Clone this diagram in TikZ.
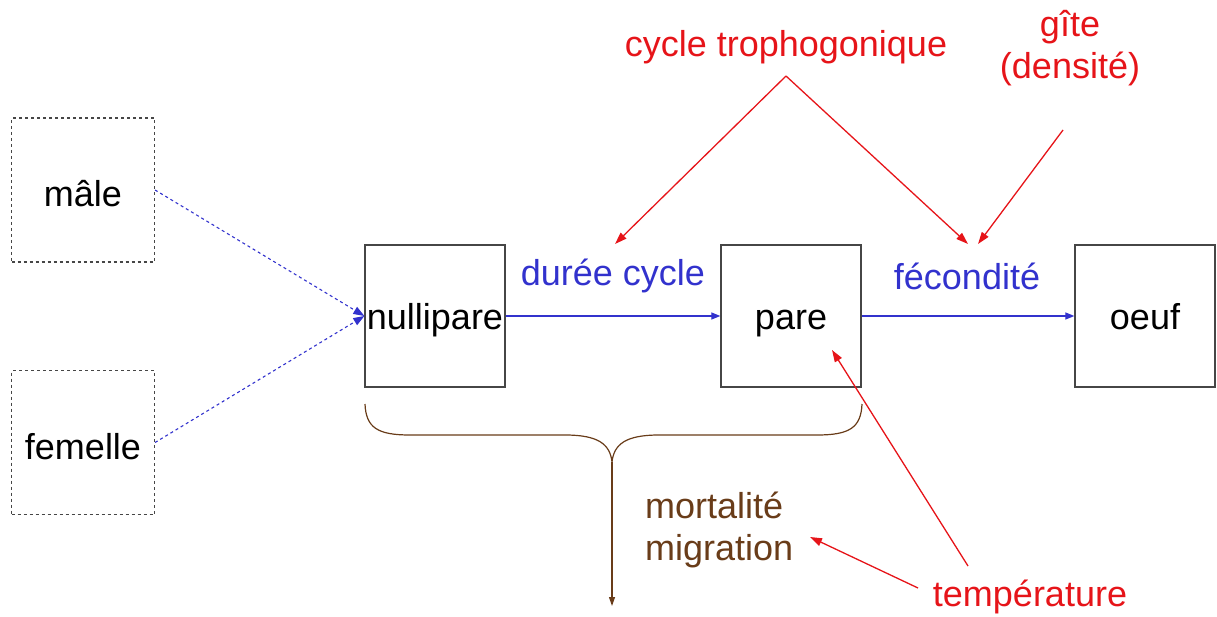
\documentclass[tikz,border=0pt]{standalone}
\usepackage{fontspec}
\setmainfont{Liberation Sans}
\usetikzlibrary{arrows.meta}
\definecolor{myblue}{RGB}{50,50,205}
\definecolor{myred}{RGB}{230,20,25}
\definecolor{mybrown}{RGB}{105,60,25}
\definecolor{boxgray}{RGB}{70,70,70}
\begin{document}
\begin{tikzpicture}[x=1pt,y=-1pt,
  font=\fontsize{36}{42}\selectfont,
  stagebox/.style={draw=boxgray,line width=1.3pt,minimum width=140pt,minimum height=142pt,inner sep=0pt,text height=32pt,text depth=4pt},
  sexbox/.style={draw=boxgray,dashed,line width=1.1pt,minimum width=143pt,minimum height=144pt,inner sep=0pt,text height=35pt,text depth=2pt},
  flow/.style={myblue,line width=1.2pt,-{Triangle[length=9pt,width=7pt]}},
  mate/.style={myblue,dashed,line width=1.1pt,-{Triangle[length=11pt,width=8pt]}},
  infl/.style={myred,line width=1.3pt,-{Triangle[length=12pt,width=8pt]}},
  lbl/.style={inner sep=0pt}]
\useasboundingbox (0,0) rectangle (1217,617);
\node[sexbox] (male) at (83,190) {mâle};
\node[sexbox] (fem) at (83,442.5) {femelle};
\node[stagebox] (nul) at (435,316) {nullipare};
\node[stagebox] (pare) at (791,316) {pare};
\node[stagebox] (oeuf) at (1145,316) {oeuf};
\draw[mate] (male.east) -- (nul.west);
\draw[mate] (fem.east) -- (nul.west);
\draw[flow] (nul.east) -- (pare.west);
\draw[flow] (pare.east) -- (oeuf.west);
\node[lbl,myblue] (duree) at (613,276) {durée cycle};
\node[lbl,myblue] (fec) at (967,276) {fécondité};
\node[lbl,myred] (troph) at (786,47) {cycle trophogonique};
\node[lbl,myred,align=center] (gite) at (1070,48) {gîte\\(densité)};
\node[lbl,myred] (temp) at (1030,597) {température};
\node[lbl,mybrown,align=left,anchor=west] (mort) at (645,530) {mortalité\\migration};
\coordinate (apex) at (786,76);
\coordinate (tA) at (615,244);
\coordinate (tB) at (968,244);
\coordinate (gS) at (1063,130);
\coordinate (tC) at (978,244);
\coordinate (pS) at (968,566);
\coordinate (tP) at (832,350);
\coordinate (mS) at (918,588);
\coordinate (tM) at (810,537);
\draw[infl] (apex) -- (tA);
\draw[infl] (apex) -- (tB);
\draw[infl] (gS) -- (tC);
\draw[infl] (pS) -- (tP);
\draw[infl] (mS) -- (tM);
\coordinate (bL) at (365,404);
\coordinate (bR) at (862,404);
\coordinate (cusp) at (612,462);
\coordinate (bEnd) at (612,606);
\draw[mybrown,line width=1.2pt] (bL) .. controls (366,428) and (378,435) .. (410,435) -- (565,435) .. controls (598,435) and (610,444) .. (cusp)
  .. controls (614,444) and (626,435) .. (659,435) -- (817,435) .. controls (849,435) and (861,428) .. (bR);
\draw[mybrown,line width=1.2pt,-{Triangle[length=9pt,width=6pt]}] (cusp) -- (bEnd);
\end{tikzpicture}
\end{document}
